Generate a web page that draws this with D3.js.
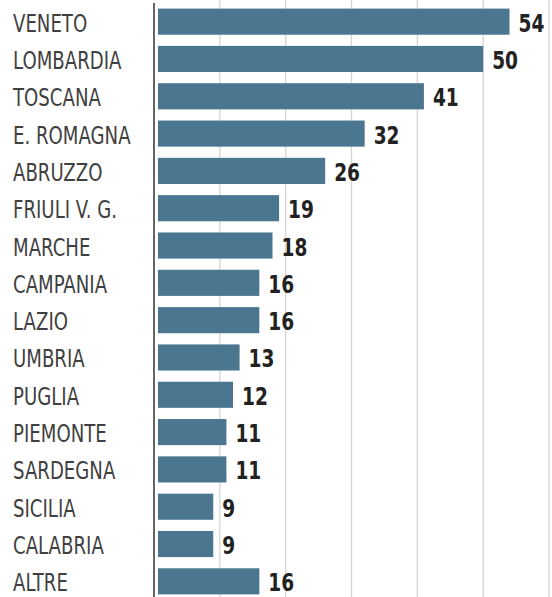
<!DOCTYPE html>
<html>
<head>
<meta charset="utf-8">
<script src="https://cdn.jsdelivr.net/npm/d3@7"></script>
<style>
  html, body { margin: 0; padding: 0; background: #fff; }
  svg { display: block; }
</style>
</head>
<body>
<svg id="chart" width="552" height="597"></svg>
<script>
// Regions and their counts
const regions = ["VENETO", "LOMBARDIA", "TOSCANA", "E. ROMAGNA", "ABRUZZO", "FRIULI V. G.",
  "MARCHE", "CAMPANIA", "LAZIO", "UMBRIA", "PUGLIA", "PIEMONTE", "SARDEGNA", "SICILIA",
  "CALABRIA", "ALTRE"];
const counts = [54, 50, 41, 32, 26, 19, 18, 16, 16, 13, 12, 11, 11, 9, 9, 16];
const gridTicks = [10, 20, 30, 40, 50, 60];

const width = 552, height = 597;
const svg = d3.select("#chart");

const x = d3.scaleLinear().domain([0, 60]).range([154, 549]);
const y = d3.scaleBand().domain(regions).range([3, 600]).paddingInner(0.3).paddingOuter(0.15);
const condensed = "'DejaVu Sans Condensed', 'Liberation Sans Narrow', sans-serif";

// vertical gridlines
svg.append("g")
  .selectAll("line")
  .data(gridTicks)
  .join("line")
  .attr("x1", d => x(d)).attr("x2", d => x(d))
  .attr("y1", 0).attr("y2", height)
  .attr("stroke", "#d6d6d6")
  .attr("stroke-width", 1.3);

// bars
svg.append("g")
  .selectAll("rect")
  .data(regions)
  .join("rect")
  .attr("x", x(0) + 4)
  .attr("y", d => y(d))
  .attr("width", (d, i) => x(counts[i]) - x(0) - 4)
  .attr("height", y.bandwidth())
  .attr("fill", "#4b7690");

// baseline
svg.append("line")
  .attr("x1", x(0)).attr("x2", x(0))
  .attr("y1", 3).attr("y2", height)
  .attr("stroke", "#333")
  .attr("stroke-width", 1.5);

// region labels (narrowed horizontally)
svg.append("g")
  .selectAll("text")
  .data(regions)
  .join("text")
  .attr("transform", d => `translate(13,${y(d) + y.bandwidth() / 2 + 10}) scale(0.84,1)`)
  .attr("font-family", condensed)
  .attr("font-size", 24)
  .attr("fill", "#404040")
  .text(d => d);

// value labels
svg.append("g")
  .selectAll("text")
  .data(regions)
  .join("text")
  .attr("transform", (d, i) => `translate(${x(counts[i]) + 9},${y(d) + y.bandwidth() / 2 + 10}) scale(0.86,1)`)
  .attr("font-family", condensed)
  .attr("font-weight", "bold")
  .attr("font-size", 24)
  .attr("fill", "#222")
  .text((d, i) => counts[i]);
</script>
</body>
</html>
